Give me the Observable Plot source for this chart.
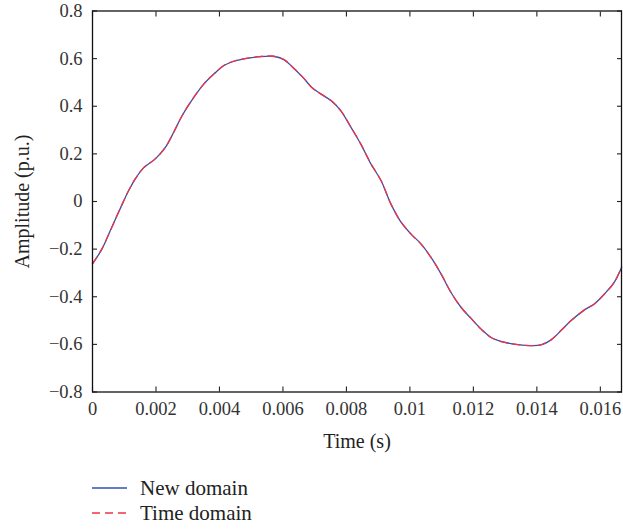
<!DOCTYPE html>
<html>
<head>
<meta charset="utf-8">
<script src="https://cdn.jsdelivr.net/npm/d3@7"></script>
<script src="https://cdn.jsdelivr.net/npm/@observablehq/plot@0.6"></script>
<style>
  body { margin: 0; background: #fff; font-family: "Liberation Serif", serif; color: #222; }
  #legend { position: relative; height: 71px; font-size: 21px; }
  .item { position: absolute; left: 92px; display: flex; align-items: center; }
  .item svg { display: block; }
  .item span { margin-left: 13px; line-height: 24px; }
</style>
</head>
<body>
<div id="chart"></div>
<div id="legend">
  <div class="item" style="top:16px"><svg width="35" height="4"><line x1="0" x2="35" y1="2" y2="2" stroke="#3050b4" stroke-width="1.3"/></svg><span>New domain</span></div>
  <div class="item" style="top:41px"><svg width="35" height="4"><line x1="0" x2="35" y1="2" y2="2" stroke="#ee3344" stroke-width="1.3" stroke-dasharray="8,5"/></svg><span>Time domain</span></div>
</div>
<script>
// time (s)
const time = [0, 0.0003, 0.0006, 0.00087, 0.00114, 0.00135, 0.0016, 0.00198, 0.0023, 0.00256, 0.0028, 0.00309, 0.00351, 0.00383, 0.00414, 0.00446, 0.00477, 0.0052, 0.0057, 0.00603, 0.0063, 0.00667, 0.0069, 0.00719, 0.00751, 0.00782, 0.00814, 0.00845, 0.00877, 0.00909, 0.0094, 0.00972, 0.01003, 0.01035, 0.01066, 0.01098, 0.01129, 0.01161, 0.01192, 0.01224, 0.01256, 0.01297, 0.0134, 0.01382, 0.01413, 0.01445, 0.01476, 0.01508, 0.0155, 0.01581, 0.01613, 0.01644, 0.01667];
// amplitude (p.u.) – new domain
const newDomain = [-0.262, -0.199, -0.11, -0.031, 0.046, 0.095, 0.14, 0.179, 0.228, 0.291, 0.355, 0.417, 0.494, 0.536, 0.571, 0.589, 0.599, 0.607, 0.61, 0.596, 0.565, 0.515, 0.48, 0.452, 0.424, 0.382, 0.312, 0.242, 0.158, 0.088, -0.01, -0.087, -0.136, -0.178, -0.234, -0.304, -0.381, -0.444, -0.49, -0.535, -0.571, -0.591, -0.601, -0.605, -0.602, -0.581, -0.542, -0.5, -0.455, -0.43, -0.388, -0.339, -0.276];
// amplitude (p.u.) – time domain
const timeDomain = [-0.262, -0.198, -0.111, -0.03, 0.046, 0.096, 0.14, 0.18, 0.228, 0.292, 0.355, 0.418, 0.494, 0.537, 0.571, 0.59, 0.599, 0.608, 0.61, 0.596, 0.565, 0.516, 0.48, 0.452, 0.425, 0.382, 0.313, 0.242, 0.159, 0.088, -0.01, -0.086, -0.136, -0.179, -0.234, -0.303, -0.381, -0.444, -0.49, -0.536, -0.571, -0.592, -0.601, -0.605, -0.602, -0.58, -0.542, -0.5, -0.455, -0.43, -0.389, -0.339, -0.276];
const xTicks = [0, 0.002, 0.004, 0.006, 0.008, 0.01, 0.012, 0.014, 0.016];
const yTicks = [-0.8, -0.6, -0.4, -0.2, 0, 0.2, 0.4, 0.6, 0.8];
const xLabel = "Time (s)";
const yLabel = "Amplitude (p.u.)";

const newData = time.map((t, i) => ({t, v: newDomain[i]}));
const timeData = time.map((t, i) => ({t, v: timeDomain[i]}));

const fmt = d => {
  if (Math.abs(d) < 1e-12) return "0";
  const s = String(+Math.abs(d).toFixed(4));
  return (d < 0 ? "\u2212" : "") + s;
};
const blank = () => "";

const chart = Plot.plot({
  width: 623,
  height: 460,
  marginLeft: 92,
  marginRight: 2,
  marginTop: 10.5,
  marginBottom: 68.5,
  style: {fontFamily: "Liberation Serif, serif", fontSize: "18.5px", color: "#222", background: "#fff"},
  x: {domain: [0, 1/60]},
  y: {domain: [-0.8, 0.8]},
  marks: [
    Plot.axisX(xTicks, {tickSize: 0, tickPadding: 10, tickFormat: fmt, label: null, fill: "#333"}),
    Plot.axisX(xTicks, {tickSize: -5, tickFormat: blank, label: null, strokeWidth: 1.1}),
    Plot.axisX(xTicks, {anchor: "top", tickSize: -5, tickFormat: blank, label: null, strokeWidth: 1.1}),
    Plot.axisY(yTicks, {tickSize: 0, tickPadding: 10, tickFormat: fmt, label: null, fill: "#333"}),
    Plot.axisY(yTicks, {tickSize: -5, tickFormat: blank, label: null, strokeWidth: 1.1}),
    Plot.axisY(yTicks, {anchor: "right", tickSize: -5, tickFormat: blank, label: null, strokeWidth: 1.1}),
    Plot.line(newData, {x: "t", y: "v", stroke: "#3050b4", strokeWidth: 1.3, curve: "catmull-rom"}),
    Plot.line(timeData, {x: "t", y: "v", stroke: "#ee3344", strokeWidth: 1.3, strokeDasharray: "8,5", curve: "catmull-rom"}),
    Plot.frame({stroke: "#111", strokeWidth: 1.3}),
    Plot.text([xLabel], {frameAnchor: "bottom", dy: 50, lineAnchor: "middle", textAnchor: "middle", fontSize: 20, fill: "#222"}),
    Plot.text([yLabel], {frameAnchor: "left", dx: -70, rotate: -90, textAnchor: "middle", lineAnchor: "middle", fontSize: 20, fill: "#222"})
  ]
});
document.getElementById("chart").appendChild(chart);
</script>
</body>
</html>
